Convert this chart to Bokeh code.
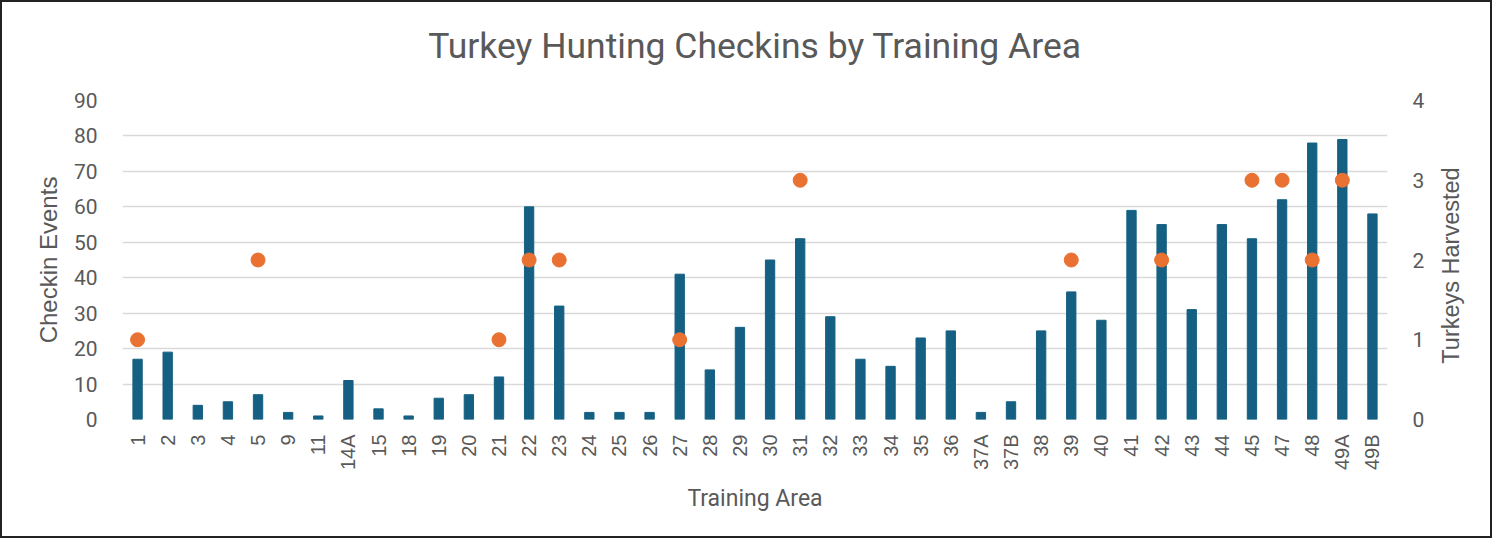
from bokeh.plotting import figure
from bokeh.models import Range1d, LinearAxis, FixedTicker, ColumnDataSource, FactorRange
from bokeh.embed import file_html
from bokeh.resources import INLINE
import math

areas = ["1", "2", "3", "4", "5", "9", "11", "14A", "15", "18", "19", "20", "21", "22", "23",
         "24", "25", "26", "27", "28", "29", "30", "31", "32", "33", "34", "35", "36", "37A",
         "37B", "38", "39", "40", "41", "42", "43", "44", "45", "47", "48", "49A", "49B"]
checkins = [17, 19, 4, 5, 7, 2, 1, 11, 3, 1, 6, 7, 12, 60, 32,
            2, 2, 2, 41, 14, 26, 45, 51, 29, 17, 15, 23, 25, 2,
            5, 25, 36, 28, 59, 55, 31, 55, 51, 62, 78, 79, 58]
N = float("nan")
turkeys = [1, N, N, N, 2, N, N, N, N, N, N, N, 1, 2, 2,
           N, N, N, 1, N, N, N, 3, N, N, N, N, N, N,
           N, N, 2, N, N, 2, N, N, 3, 3, 2, 3, N]
left_ticks = [0, 10, 20, 30, 40, 50, 60, 70, 80, 90]
right_ticks = [0, 1, 2, 3, 4]

src = ColumnDataSource(dict(area=areas, checkins=checkins, turkeys=turkeys))

GREY = "#595959"
NARROW = "Roboto"
ARIAL = "'Liberation Sans', Arial"

p = figure(x_range=FactorRange(*areas, range_padding=0), y_range=Range1d(0, 90),
           width=1492, height=538, output_backend="svg", toolbar_location=None,
           min_border_left=120, min_border_right=107, min_border_top=98, min_border_bottom=121)
# "lab" is a helper scale (frame height = 40 units) used only to place the right-hand title
p.extra_y_ranges = {"t": Range1d(0, 4), "lab": Range1d(0, 40)}

p.vbar(x="area", top="checkins", width=0.31, color="#156082", source=src)
p.scatter(x="area", y="turkeys", size=14, color="#E97132", y_range_name="t", source=src)

p.title.text = "Turkey Hunting Checkins by Training Area"
p.title.align = "center"
p.title.vertical_align = "top"
p.title.text_font = NARROW
p.title.text_font_size = "35.5px"
p.title.text_font_style = "normal"
p.title.text_color = GREY
p.title.standoff = 40
p.title.padding = (0, 0, 0, 12)

p.outline_line_color = None
p.xgrid.grid_line_color = None
p.ygrid.grid_line_color = "#d9d9d9"
p.ygrid.grid_line_width = 1.5
p.ygrid.ticker = FixedTicker(ticks=left_ticks)

right = LinearAxis(y_range_name="t", ticker=FixedTicker(ticks=right_ticks))
p.add_layout(right, "right")

# right-hand axis title, drawn as the single rotated label of a helper axis so it reads bottom-to-top
RIGHT_TITLE = "Turkeys Harvested"
right_title = LinearAxis(y_range_name="lab", ticker=FixedTicker(ticks=[7]),
                         major_label_overrides={7: RIGHT_TITLE, "7": RIGHT_TITLE})
right_title.major_label_orientation = math.pi / 2
right_title.axis_line_color = None
right_title.major_tick_line_color = None
right_title.minor_tick_line_color = None
right_title.major_label_text_font = ARIAL
right_title.major_label_text_font_size = "23.5px"
right_title.major_label_text_color = GREY
right_title.major_label_standoff = 18
p.add_layout(right_title, "right")

left = p.yaxis[0]
left.ticker = FixedTicker(ticks=left_ticks)
left.axis_label = "Checkin Events"
left.axis_label_text_font = ARIAL
left.axis_label_text_font_size = "24px"
left.axis_label_text_font_style = "normal"
left.axis_label_text_color = GREY
left.axis_label_standoff = 9

for ax in [left, right]:
    ax.axis_line_color = None
    ax.major_tick_line_color = None
    ax.minor_tick_line_color = None
    ax.major_label_text_font = NARROW
    ax.major_label_text_font_size = "21px"
    ax.major_label_text_color = GREY
    ax.major_label_standoff = 19

xa = p.xaxis[0]
xa.axis_line_color = None
xa.major_tick_line_color = None
xa.minor_tick_line_color = None
xa.major_label_orientation = math.pi / 2
xa.major_label_text_font = ARIAL
xa.major_label_text_font_size = "20px"
xa.major_label_text_color = GREY
xa.major_label_standoff = 9
xa.axis_label = "Training Area"
xa.axis_label_text_font = NARROW
xa.axis_label_text_font_size = "23px"
xa.axis_label_text_font_style = "normal"
xa.axis_label_text_color = GREY
xa.axis_label_standoff = 12

p.styles = {"border": "2px solid #222"}

open("out.html", "w").write(file_html(p, INLINE))
